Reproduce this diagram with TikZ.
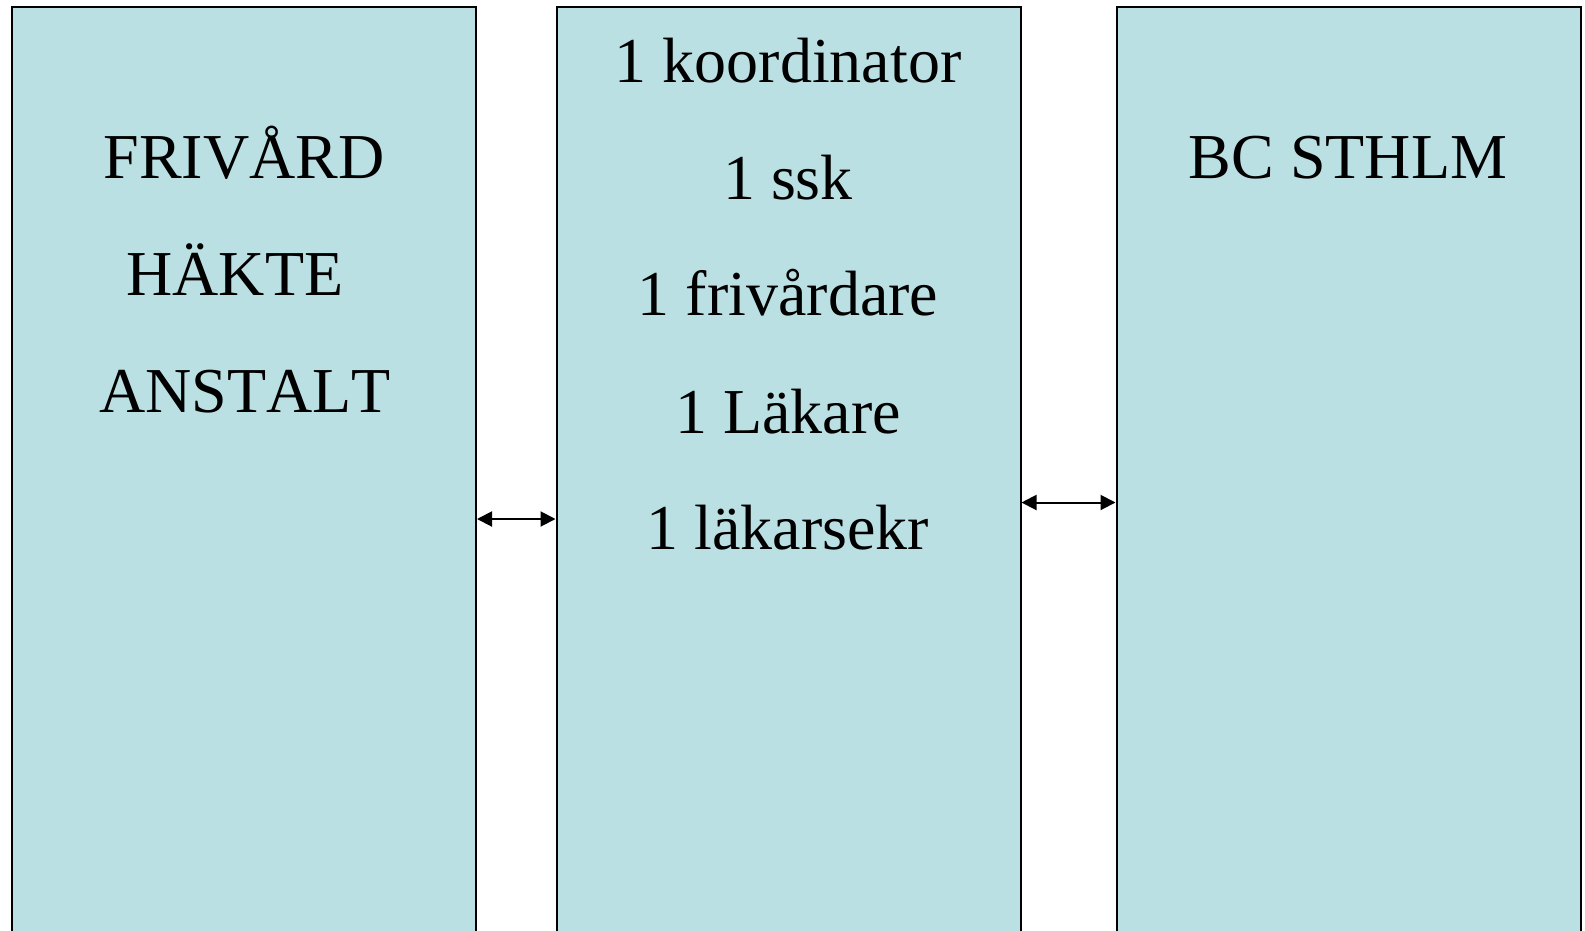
\documentclass[tikz,border=0pt]{standalone}
\usepackage{fontspec}
\setmainfont{Liberation Serif}[Kerning=Off]
\usetikzlibrary{arrows.meta}
\definecolor{boxblue}{RGB}{187,224,227}
\tikzset{
  column/.style={draw, line width=2pt, fill=boxblue, minimum width=464pt, minimum height=960pt, inner sep=0pt},
  word/.style={anchor=base, font=\fontsize{64}{77}\selectfont, inner sep=0pt},
  link/.style={{Triangle[length=15pt,width=15pt]}-{Triangle[length=15pt,width=15pt]}, line width=2pt}
}
\begin{document}
\begin{tikzpicture}[x=1pt,y=-1pt]
        \clip (0,0) rectangle (1585,930);

        \node [column] (left) at (244,487) {};
        \node [column] (mid) at (788.5,487) {};
        \node [column] (right) at (1348.5,487) {};

        \node [word] (frivard) at (244,178) {FRIVÅRD};
        \node [word] (hakte) at (235,295) {HÄKTE};
        \node [word] (anstalt) at (245,412) {ANSTALT};

        \node [word] (koord) at (788,82) {1 koordinator};
        \node [word] (ssk) at (788,199) {1 ssk};
        \node [word] (frivardare) at (788,315) {1 frivårdare};
        \node [word] (lakare) at (788,433) {1 Läkare};
        \node [word] (sekr) at (788,549) {1 läkarsekr};

        \node [word] (bc) at (1348,178) {BC STHLM};

        \draw [link] ([yshift=-32pt]left.east) -- ([yshift=-32pt]mid.west);
        \draw [link] ([yshift=-15.5pt]mid.east) -- ([yshift=-15.5pt]right.west);

    \end{tikzpicture}
\end{document}
